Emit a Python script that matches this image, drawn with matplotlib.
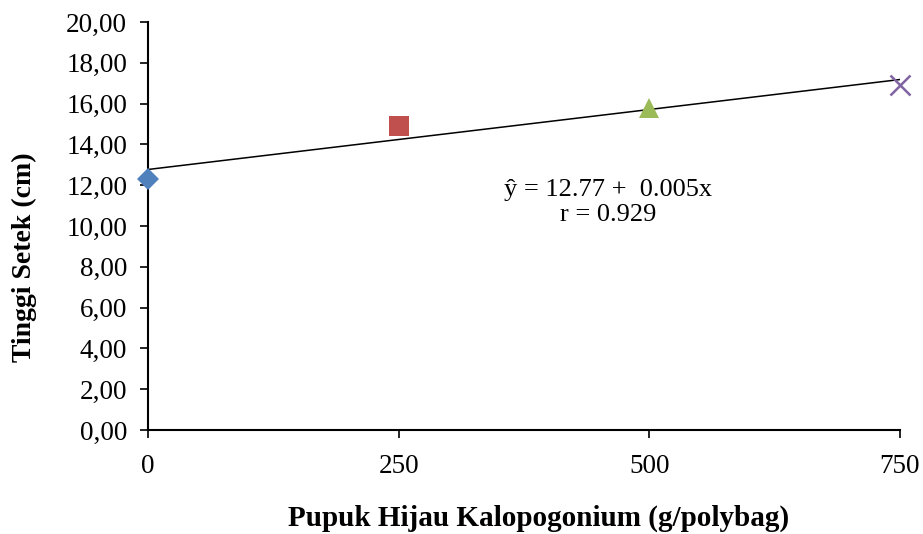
import numpy as np
import matplotlib
matplotlib.use('Agg')
import matplotlib.pyplot as plt
from matplotlib.ticker import FuncFormatter

# Data
dosis = [0, 250, 500, 750]
tinggi = [12.3, 14.9, 15.8, 16.9]
warna = ['#4F81BD', '#C0504D', '#9BBB59', '#8064A2']
penanda = ['D', 's', '^', 'x']
ukuran = [11, 14.5, 14.5, 14.5]

plt.rcParams['font.family'] = ['Liberation Serif', 'DejaVu Serif']

fig = plt.figure(figsize=(9.23, 5.34), dpi=100)
ax = fig.add_axes([0.1603, 0.1948, 0.8147, 0.764])

# Regression line
b, a = np.polyfit(dosis, tinggi, 1)
xs = np.array([dosis[0], dosis[-1]])
ax.plot(xs, a + b * xs, color='black', linewidth=1.1, zorder=2)

for x, y, c, m, s in zip(dosis, tinggi, warna, penanda, ukuran):
    if m == 'x':
        ax.plot(x, y, marker=m, color=c, markersize=s, markeredgewidth=1.8,
                linestyle='none', zorder=3, clip_on=False)
    else:
        ax.plot(x, y, marker=m, color=c, markersize=s, markeredgewidth=0,
                linestyle='none', zorder=3, clip_on=False)

ax.text(459, 11.15, 'ŷ = 12.77 +  0.005x\nr = 0.929', ha='center', va='center',
        fontsize=19, linespacing=1.2)

ax.set_xlim(0, 750)
ax.set_ylim(0, 20)
ax.set_xticks(dosis)
ax.set_yticks(np.arange(0, 21, 2))
ax.yaxis.set_major_formatter(FuncFormatter(lambda v, p: f'{v:.2f}'.replace('.', ',')))

for s in ['top', 'right']:
    ax.spines[s].set_visible(False)
for s in ['left', 'bottom']:
    ax.spines[s].set_linewidth(1.5)
ax.tick_params(axis='both', labelsize=19.5, length=6, width=1.2, direction='out')
ax.tick_params(axis='x', pad=11)
ax.tick_params(axis='y', pad=9)

ax.set_xlabel('Pupuk Hijau Kalopogonium (g/polybag)', fontsize=21,
              fontweight='bold')
ax.set_ylabel('Tinggi Setek (cm)', fontsize=20, fontweight='bold')
ax.xaxis.set_label_coords(0.52, -0.182)
ax.yaxis.set_label_coords(-0.148, 0.424)

fig.savefig('out.png', dpi=100)
